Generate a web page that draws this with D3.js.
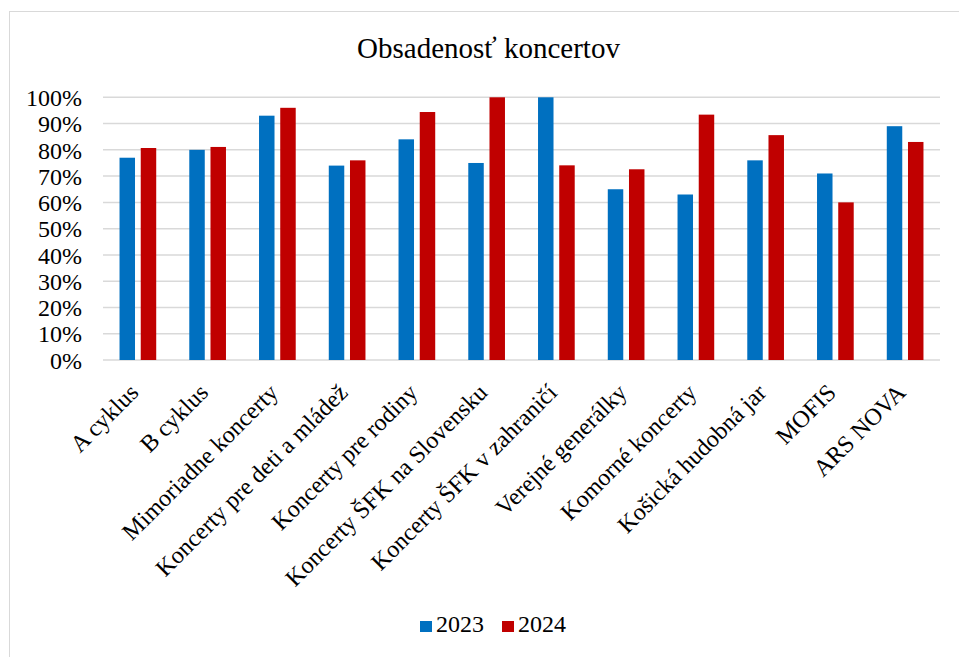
<!DOCTYPE html>
<html>
<head>
<meta charset="utf-8">
<script src="https://cdn.jsdelivr.net/npm/d3@7"></script>
<style>
  body { margin: 0; background: #fff; }
  svg text { font-family: "Liberation Serif", "Times New Roman", serif !important; fill: #000; }
</style>
</head>
<body>
<svg id="chart" width="959" height="657" font-family="Liberation Serif, serif"></svg>
<script>
const categories = [
  "A cyklus", "B cyklus", "Mimoriadne koncerty", "Koncerty pre deti a mládež",
  "Koncerty pre rodiny", "Koncerty ŠFK na Slovensku", "Koncerty ŠFK v zahraničí",
  "Verejné generálky", "Komorné koncerty", "Košická hudobná jar", "MOFIS", "ARS NOVA"
];
const years = ["2023", "2024"];
const values2023 = [0.77, 0.80, 0.93, 0.74, 0.84, 0.75, 1.00, 0.65, 0.63, 0.76, 0.71, 0.89];
const values2024 = [0.807, 0.811, 0.96, 0.76, 0.944, 1.00, 0.741, 0.726, 0.934, 0.856, 0.60, 0.83];
const yTicks = [0, 0.1, 0.2, 0.3, 0.4, 0.5, 0.6, 0.7, 0.8, 0.9, 1.0];
const colors = { "2023": "#0070C0", "2024": "#C00000" };

const svg = d3.select("#chart");
const m = { left: 103, right: 940, top: 97.3, bottom: 360 };

// chart frame
svg.append("rect")
  .attr("x", 9.5).attr("y", 11.5)
  .attr("width", 960).attr("height", 660)
  .attr("fill", "none").attr("stroke", "#d9d9d9").attr("stroke-width", 1);

svg.append("text")
  .attr("x", 488.5).attr("y", 58)
  .attr("text-anchor", "middle")
  .style("font-size", "29px")
  .text("Obsadenosť koncertov");

const y = d3.scaleLinear().domain([0, 1]).range([m.bottom, m.top]);
const x0 = d3.scaleBand().domain(categories).range([m.left, m.right])
  .paddingInner(0.474).paddingOuter(0.237);
const x1 = d3.scaleBand().domain(years).range([0, x0.bandwidth()]).paddingInner(0.27);

// gridlines
svg.append("g")
  .selectAll("line")
  .data(yTicks)
  .join("line")
  .attr("x1", m.left).attr("x2", m.right)
  .attr("y1", d => y(d)).attr("y2", d => y(d))
  .attr("stroke", "#d9d9d9").attr("stroke-width", 1.5);

// y axis labels
const yAxis = d3.axisLeft(y).tickValues(yTicks).tickFormat(d3.format(".0%")).tickSize(0).tickPadding(0);
svg.append("g")
  .attr("transform", `translate(82, 0)`)
  .call(yAxis)
  .attr("font-family", null)
  .attr("font-size", null)
  .call(g => g.select(".domain").remove())
  .selectAll("text")
  .style("font-size", "24px")
  .attr("dy", "0.34em");

// bars
const rows = categories.map((c, i) => ({ cat: c, vals: [
  { year: "2023", v: values2023[i] },
  { year: "2024", v: values2024[i] }
]}));

svg.append("g")
  .selectAll("g")
  .data(rows)
  .join("g")
  .attr("transform", d => `translate(${x0(d.cat)},0)`)
  .selectAll("rect")
  .data(d => d.vals)
  .join("rect")
  .attr("x", d => x1(d.year))
  .attr("width", x1.bandwidth())
  .attr("y", d => y(d.v))
  .attr("height", d => y(0) - y(d.v))
  .attr("fill", d => colors[d.year]);

// x category labels
svg.append("g")
  .selectAll("text")
  .data(categories)
  .join("text")
  .attr("text-anchor", "end")
  .style("font-size", "24px")
  .attr("transform", d => `translate(${x0(d) + x0.bandwidth() / 2 + 2}, 394) rotate(-45)`)
  .text(d => d);

// legend
const legend = svg.append("g");
const legendX = { "2023": 420, "2024": 502 };
years.forEach(yr => {
  legend.append("rect")
    .attr("x", legendX[yr]).attr("y", 621)
    .attr("width", 12).attr("height", 11)
    .attr("fill", colors[yr]);
  legend.append("text")
    .attr("x", legendX[yr] + 16).attr("y", 632)
    .style("font-size", "24px")
    .text(yr);
});
</script>
</body>
</html>
